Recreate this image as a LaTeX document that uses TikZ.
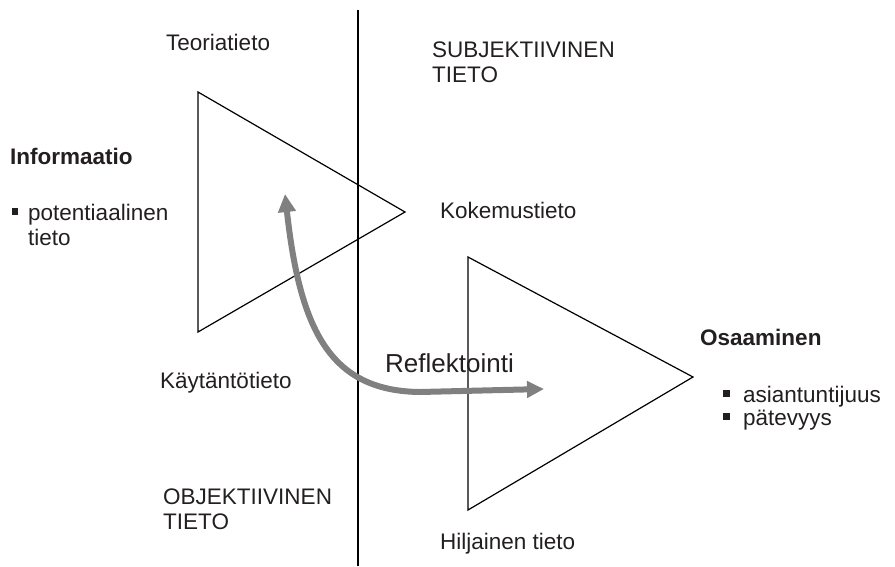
\documentclass[tikz,border=0pt]{standalone}
\usepackage{fontspec}
\setmainfont{Liberation Sans}
\usetikzlibrary{arrows.meta}
\definecolor{arrowgray}{RGB}{128,128,128}
\definecolor{txt}{RGB}{35,31,32}
\begin{document}
\begin{tikzpicture}[x=1pt,y=-1pt,
  lbl/.style={anchor=base west,inner sep=0pt,text=txt,font=\fontsize{22.5}{25}\selectfont},
  bold/.style={lbl,font=\fontsize{22.5}{25}\selectfont\bfseries},
  bul/.style={fill=txt,inner sep=0pt,minimum size=6.5pt},
  tri/.style={draw=black,line width=1.2pt},
  refl/.style={draw=arrowgray,line width=6pt,{Triangle[length=18pt,width=17pt]}-{Triangle[length=17pt,width=16pt]}}
]
\useasboundingbox (0,0) rectangle (895,566);
% vertical divider
\coordinate (vtop) at (358,10);
\coordinate (vbot) at (358,566);
\draw[line width=1.5pt] (vtop) -- (vbot);
% triangles
\draw[tri] (198,92) -- (405,212) -- (198,332) -- cycle;
\draw[tri] (468,257) -- (693,377) -- (468,510) -- cycle;
% texts
\node[lbl] (teo) at (166,50) {Teoriatieto};
\node[lbl] (subj1) at (432,57) {SUBJEKTIIVINEN};
\node[lbl] (subj2) at (432,82) {TIETO};
\node[bold] (info) at (10,164) {Informaatio};
\node[bul] (b1) at (15,211.5) {};
\node[lbl] (pot1) at (28,220) {potentiaalinen};
\node[lbl] (pot2) at (28,245) {tieto};
\node[lbl] (kok) at (440,218) {Kokemustieto};
\node[bold] (osa) at (700,345) {Osaaminen};
\node[anchor=base west,inner sep=0pt,text=txt,font=\fontsize{26}{30}\selectfont] (ref) at (385,372) {Reflektointi};
\node[lbl] (kay) at (160,388) {Käytäntötieto};
\node[bul] (b2) at (726.5,393.5) {};
\node[lbl] (asi) at (743,402) {asiantuntijuus};
\node[bul] (b3) at (726.5,416.5) {};
\node[lbl] (pat) at (743,425) {pätevyys};
\node[lbl] (obj1) at (163,504) {OBJEKTIIVINEN};
\node[lbl] (obj2) at (163,529) {TIETO};
\node[lbl] (hil) at (440,549) {Hiljainen tieto};
% reflection arrow
\coordinate (rtop) at (285,194);
\coordinate (rend) at (544,389);
\draw[refl] (rtop) .. controls (300,330) and (330,391) .. (420,392) -- (rend);
\end{tikzpicture}
\end{document}
